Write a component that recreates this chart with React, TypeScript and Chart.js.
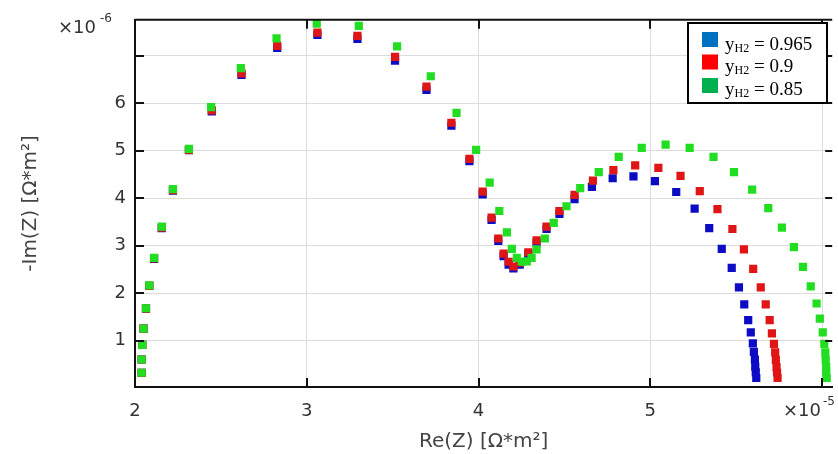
import React, { useEffect, useRef } from 'react';
import { Chart, registerables } from 'chart.js';
Chart.register(...registerables);

const xTicks = [2, 3, 4, 5, 6];
const xTickLabels = ['2', '3', '4', '5', ''];
const yTicks = [1, 2, 3, 4, 5, 6, 7];
const yTickLabels = ['1', '2', '3', '4', '5', '6', ''];
const seriesValues = ['0.965', '0.9', '0.85'];

const reBlue = [2.039, 2.039, 2.042, 2.050, 2.064, 2.083, 2.111, 2.156, 2.221, 2.314, 2.447, 2.620, 2.828, 3.062, 3.295, 3.514, 3.697, 3.842, 3.947, 4.024, 4.076, 4.115, 4.146, 4.175, 4.203, 4.240, 4.290, 4.338, 4.396, 4.471, 4.559, 4.660, 4.781, 4.902, 5.027, 5.151, 5.258, 5.343, 5.416, 5.474, 5.516, 5.547, 5.570, 5.585, 5.597, 5.603, 5.609, 5.611, 5.614, 5.617];
const imBlue = [0.32, 0.60, 0.91, 1.25, 1.67, 2.15, 2.72, 3.37, 4.16, 5.01, 5.83, 6.60, 7.17, 7.44, 7.36, 6.90, 6.28, 5.53, 4.78, 4.08, 3.54, 3.10, 2.78, 2.60, 2.52, 2.60, 2.82, 3.06, 3.35, 3.67, 3.98, 4.24, 4.42, 4.46, 4.36, 4.13, 3.78, 3.37, 2.93, 2.53, 2.12, 1.76, 1.43, 1.17, 0.94, 0.76, 0.60, 0.45, 0.33, 0.21];

const reRed = [2.039, 2.039, 2.042, 2.050, 2.064, 2.083, 2.111, 2.156, 2.221, 2.314, 2.447, 2.620, 2.828, 3.062, 3.295, 3.514, 3.697, 3.842, 3.947, 4.024, 4.076, 4.115, 4.146, 4.175, 4.203, 4.240, 4.290, 4.338, 4.396, 4.471, 4.559, 4.666, 4.785, 4.912, 5.047, 5.176, 5.288, 5.391, 5.478, 5.545, 5.599, 5.643, 5.672, 5.695, 5.708, 5.720, 5.727, 5.731, 5.735, 5.738, 5.741];
const imRed = [0.32, 0.60, 0.91, 1.25, 1.67, 2.15, 2.73, 3.38, 4.17, 5.02, 5.85, 6.63, 7.21, 7.49, 7.42, 6.98, 6.35, 5.59, 4.83, 4.14, 3.59, 3.15, 2.83, 2.66, 2.56, 2.64, 2.86, 3.11, 3.40, 3.73, 4.07, 4.37, 4.59, 4.69, 4.64, 4.47, 4.15, 3.77, 3.35, 2.92, 2.51, 2.12, 1.76, 1.43, 1.15, 0.93, 0.75, 0.59, 0.44, 0.32, 0.21];

const reGreen = [2.039, 2.039, 2.042, 2.050, 2.064, 2.083, 2.111, 2.156, 2.221, 2.314, 2.443, 2.616, 2.824, 3.058, 3.303, 3.526, 3.722, 3.872, 3.986, 4.065, 4.121, 4.165, 4.194, 4.223, 4.252, 4.281, 4.309, 4.338, 4.386, 4.438, 4.512, 4.592, 4.700, 4.816, 4.950, 5.089, 5.229, 5.368, 5.487, 5.593, 5.687, 5.766, 5.836, 5.889, 5.934, 5.968, 5.987, 6.004, 6.013, 6.019, 6.021, 6.024, 6.024, 6.027];
const imGreen = [0.32, 0.60, 0.91, 1.25, 1.68, 2.16, 2.74, 3.40, 4.19, 5.04, 5.92, 6.74, 7.37, 7.68, 7.63, 7.20, 6.57, 5.80, 5.02, 4.33, 3.73, 3.28, 2.93, 2.74, 2.66, 2.67, 2.74, 2.92, 3.15, 3.48, 3.83, 4.21, 4.55, 4.87, 5.06, 5.13, 5.06, 4.87, 4.55, 4.18, 3.79, 3.38, 2.97, 2.55, 2.14, 1.78, 1.46, 1.17, 0.93, 0.75, 0.59, 0.44, 0.32, 0.21];

const markerColors = ['#0c0cc4', '#e01616', '#22de22'];
const legendColors = ['#0070C0', '#FF0000', '#00B050'];

const toPts = (xs: number[], ys: number[]) => xs.map((x, i) => ({ x, y: ys[i] }));

const framePlugin = {
  id: 'frame',
  afterDraw(chart: any) {
    const ctx = chart.ctx;
    const { left, top, right, bottom } = chart.chartArea;
    const xs = chart.scales.x;
    const ys = chart.scales.y;
    ctx.save();
    ctx.strokeStyle = '#111';
    ctx.lineWidth = 2;
    ctx.beginPath();
    ctx.moveTo(left, top);
    ctx.lineTo(right, top);
    ctx.stroke();
    ctx.beginPath();
    yTicks.forEach((v) => {
      const py = Math.round(ys.getPixelForValue(v));
      ctx.moveTo(left, py);
      ctx.lineTo(left + 9, py);
      ctx.moveTo(right - 7, py);
      ctx.lineTo(right, py);
    });
    xTicks.forEach((v) => {
      if (v === xTicks[0]) return;
      const px = Math.round(xs.getPixelForValue(v));
      ctx.moveTo(px, bottom);
      ctx.lineTo(px, bottom - 9);
      ctx.moveTo(px, top);
      ctx.lineTo(px, top + 9);
    });
    ctx.stroke();

    ctx.fillStyle = '#333';
    ctx.textBaseline = 'middle';
    ctx.textAlign = 'left';
    ctx.font = '18px "DejaVu Sans"';
    ctx.fillText('×10', 58, 28);
    ctx.font = '12px "DejaVu Sans"';
    ctx.fillText('-6', 100, 19);
    ctx.font = '18px "DejaVu Sans"';
    ctx.fillText('×10', 783, 411);
    ctx.font = '12px "DejaVu Sans"';
    ctx.fillText('-5', 823, 402);

    ctx.fillStyle = '#444';
    ctx.font = '20px "DejaVu Sans"';
    ctx.textAlign = 'center';
    ctx.fillText('Re(Z) [Ω*m²]', (left + right) / 2, 442);
    ctx.save();
    ctx.translate(31, (top + bottom) / 2);
    ctx.rotate(-Math.PI / 2);
    ctx.fillText('-Im(Z) [Ω*m²]', 0, 0);
    ctx.restore();

    const lx = 688, ly = 23, lw = 139, lh = 80;
    ctx.fillStyle = '#fff';
    ctx.fillRect(lx, ly, lw, lh);
    ctx.strokeStyle = '#000';
    ctx.lineWidth = 2;
    ctx.strokeRect(lx, ly, lw, lh);
    const sqTops = [32, 54.5, 78];
    const bases = [49.5, 72, 94.5];
    seriesValues.forEach((val, i) => {
      ctx.fillStyle = legendColors[i];
      ctx.fillRect(702, sqTops[i], 16, 15);
      ctx.fillStyle = '#000';
      ctx.textAlign = 'left';
      ctx.textBaseline = 'alphabetic';
      let x = 725;
      ctx.font = '19px "Liberation Serif"';
      ctx.fillText('y', x, bases[i]);
      x += ctx.measureText('y').width;
      ctx.font = '12px "Liberation Serif"';
      ctx.fillText('H2', x, bases[i] + 2);
      x += ctx.measureText('H2').width;
      ctx.font = '19px "Liberation Serif"';
      ctx.fillText(' = ' + val, x, bases[i]);
    });
    ctx.restore();
  },
};

export default function App() {
  const ref = useRef<HTMLCanvasElement>(null);
  useEffect(() => {
    if (!ref.current) return;
    const mk = (label: string, xs: number[], ys: number[], color: string, order: number) => ({
      label,
      data: toPts(xs, ys),
      backgroundColor: color,
      borderColor: color,
      pointStyle: 'rect',
      pointRadius: 5.8,
      pointBorderWidth: 0,
      showLine: false,
      order,
    });
    const chart = new Chart(ref.current, {
      type: 'scatter',
      data: {
        datasets: [
          mk('yH2 = ' + seriesValues[0], reBlue, imBlue, markerColors[0], 3),
          mk('yH2 = ' + seriesValues[1], reRed, imRed, markerColors[1], 2),
          mk('yH2 = ' + seriesValues[2], reGreen, imGreen, markerColors[2], 1),
        ] as any,
      },
      options: {
        animation: false,
        responsive: true,
        maintainAspectRatio: false,
        layout: { padding: { top: 13, right: 0, left: 0, bottom: 0 } },
        plugins: { legend: { display: false }, tooltip: { enabled: false } },
        scales: {
          x: {
            type: 'linear',
            min: 2,
            max: 6.059,
            afterBuildTicks: (s: any) => { s.ticks = xTicks.map((v) => ({ value: v })); },
            afterFit: (s: any) => { s.height = 67; },
            grid: { color: '#dcdcdc', lineWidth: 1, drawTicks: false },
            border: { display: true, color: '#111', width: 2 },
            ticks: {
              padding: 14,
              color: '#333',
              font: { family: 'DejaVu Sans', size: 18 },
              maxRotation: 0,
              autoSkip: false,
              callback: (_v: any, i: number) => xTickLabels[i],
            },
          },
          y: {
            type: 'linear',
            min: 0.02,
            max: 7.76,
            afterBuildTicks: (s: any) => { s.ticks = yTicks.map((v) => ({ value: v })); },
            afterFit: (s: any) => { s.width = 135; },
            grid: { color: '#dcdcdc', lineWidth: 1, drawTicks: false },
            border: { display: true, color: '#111', width: 2 },
            ticks: {
              padding: 9,
              color: '#333',
              font: { family: 'DejaVu Sans', size: 18 },
              autoSkip: false,
              callback: (_v: any, i: number) => yTickLabels[i],
            },
          },
        },
      } as any,
      plugins: [framePlugin],
    });
    return () => chart.destroy();
  }, []);
  return (
    <div style={{ position: 'fixed', left: 0, top: 0, width: 838, height: 454, background: '#fff' }}>
      <canvas ref={ref} />
    </div>
  );
}
